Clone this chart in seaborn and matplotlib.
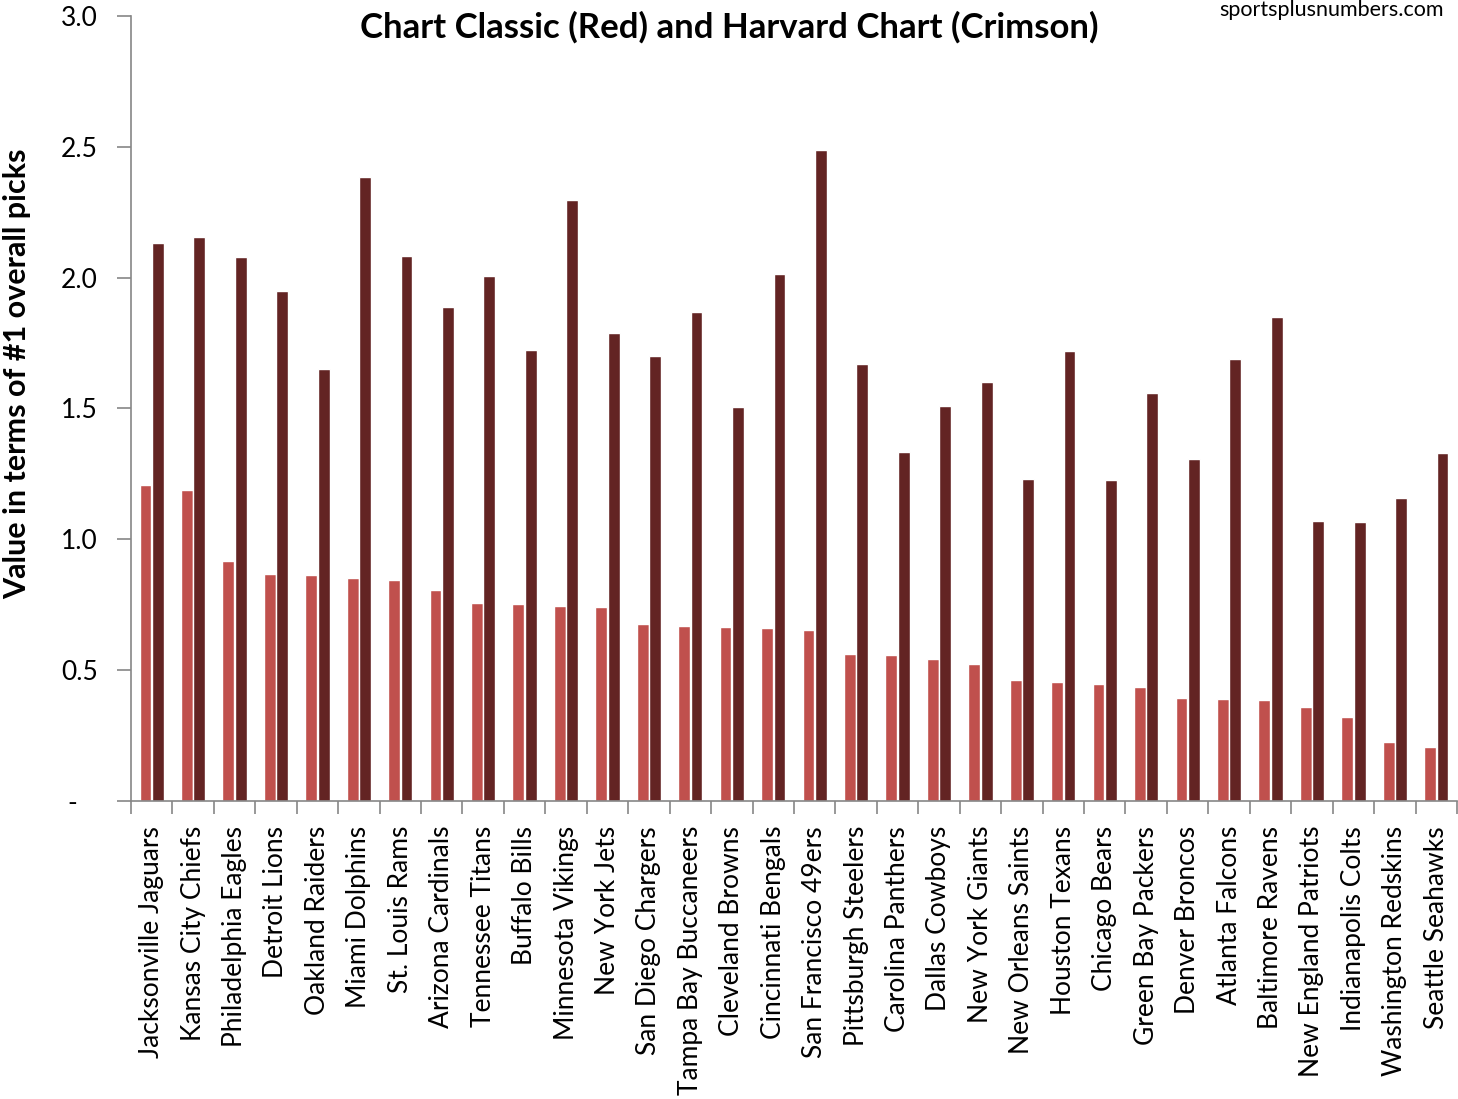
import numpy as np
import pandas as pd
import matplotlib
matplotlib.use('Agg')
import matplotlib.pyplot as plt
import seaborn as sns

# equipes e valores
teams = ['Jacksonville Jaguars', 'Kansas City Chiefs', 'Philadelphia Eagles', 'Detroit Lions',
         'Oakland Raiders', 'Miami Dolphins', 'St. Louis Rams', 'Arizona Cardinals',
         'Tennessee Titans', 'Buffalo Bills', 'Minnesota Vikings', 'New York Jets',
         'San Diego Chargers', 'Tampa Bay Buccaneers', 'Cleveland Browns', 'Cincinnati Bengals',
         'San Francisco 49ers', 'Pittsburgh Steelers', 'Carolina Panthers', 'Dallas Cowboys',
         'New York Giants', 'New Orleans Saints', 'Houston Texans', 'Chicago Bears',
         'Green Bay Packers', 'Denver Broncos', 'Atlanta Falcons', 'Baltimore Ravens',
         'New England Patriots', 'Indianapolis Colts', 'Washington Redskins', 'Seattle Seahawks']

classic = [1.207, 1.188, 0.917, 0.867, 0.864, 0.852, 0.844, 0.806,
           0.757, 0.753, 0.745, 0.741, 0.676, 0.669, 0.665, 0.661,
           0.653, 0.562, 0.558, 0.543, 0.524, 0.462, 0.455, 0.447,
           0.436, 0.394, 0.390, 0.386, 0.359, 0.321, 0.225, 0.206]

harvard = [2.132, 2.155, 2.079, 1.949, 1.651, 2.384, 2.083, 1.888,
           2.006, 1.723, 2.297, 1.788, 1.700, 1.869, 1.506, 2.014,
           2.488, 1.670, 1.334, 1.509, 1.601, 1.230, 1.720, 1.227,
           1.559, 1.307, 1.689, 1.849, 1.070, 1.066, 1.158, 1.330]

series = ['Classic', 'Harvard']
cores = ['#C0504D', '#632423']
yticks = [0, 0.5, 1.0, 1.5, 2.0, 2.5, 3.0]
ytick_labels = ['-   ', '0.5', '1.0', '1.5', '2.0', '2.5', '3.0']

df = pd.DataFrame({'team': teams, 'Classic': classic, 'Harvard': harvard})
df_long = df.melt(id_vars='team', value_vars=series, var_name='chart', value_name='value')

sns.set_style('white')
plt.rcParams['font.family'] = ['Lato', 'DejaVu Sans']
plt.rcParams['text.color'] = 'black'
plt.rcParams['xtick.color'] = 'black'
plt.rcParams['ytick.color'] = 'black'

fig = plt.figure(figsize=(14.58, 10.99), dpi=100)
ax = fig.add_axes([0.0898, 0.2712, 0.9095, 0.7142])

sns.barplot(data=df_long, x='team', y='value', hue='chart', hue_order=series,
            palette=cores, width=0.6, gap=0.05, saturation=1, ax=ax,
            errorbar=None, legend=False)

ax.set_xlim(-0.5, len(teams) - 0.5)
ax.set_ylim(0, 3.0)
ax.set_yticks(yticks)
ax.set_yticklabels(ytick_labels, fontsize=19)
ax.set_xticks(range(len(teams)))
ax.set_xticklabels(teams, rotation=90, fontsize=19)
ax.set_xticks(np.arange(-0.5, len(teams), 1), minor=True)
ax.tick_params(axis='x', which='major', bottom=True, length=0, pad=18, labelcolor='black')
ax.tick_params(axis='x', which='minor', bottom=True, length=9, width=1.2, color='#868686', direction='out')
ax.tick_params(axis='y', left=True, length=10, width=1.2, color='#868686', direction='out', pad=14,
               labelcolor='black')
ax.set_xlabel('')
ax.set_ylabel('')

for s in ['top', 'right']:
    ax.spines[s].set_visible(False)
for s in ['left', 'bottom']:
    ax.spines[s].set_color('#868686')
    ax.spines[s].set_linewidth(1.2)

fig.text(0.0115, 0.66, 'Value in terms of #1 overall picks', rotation=90, ha='center', va='center',
         fontsize=22, fontweight='bold', color='black')
fig.text(0.5, 0.975, 'Chart Classic (Red) and Harvard Chart (Crimson)', ha='center', va='center',
         fontsize=25, fontweight='bold', color='black')
fig.text(0.99, 0.991, 'sportsplusnumbers.com', ha='right', va='center', fontsize=15.5, color='black')

fig.savefig('out.png', dpi=100, facecolor='white')
plt.close(fig)
